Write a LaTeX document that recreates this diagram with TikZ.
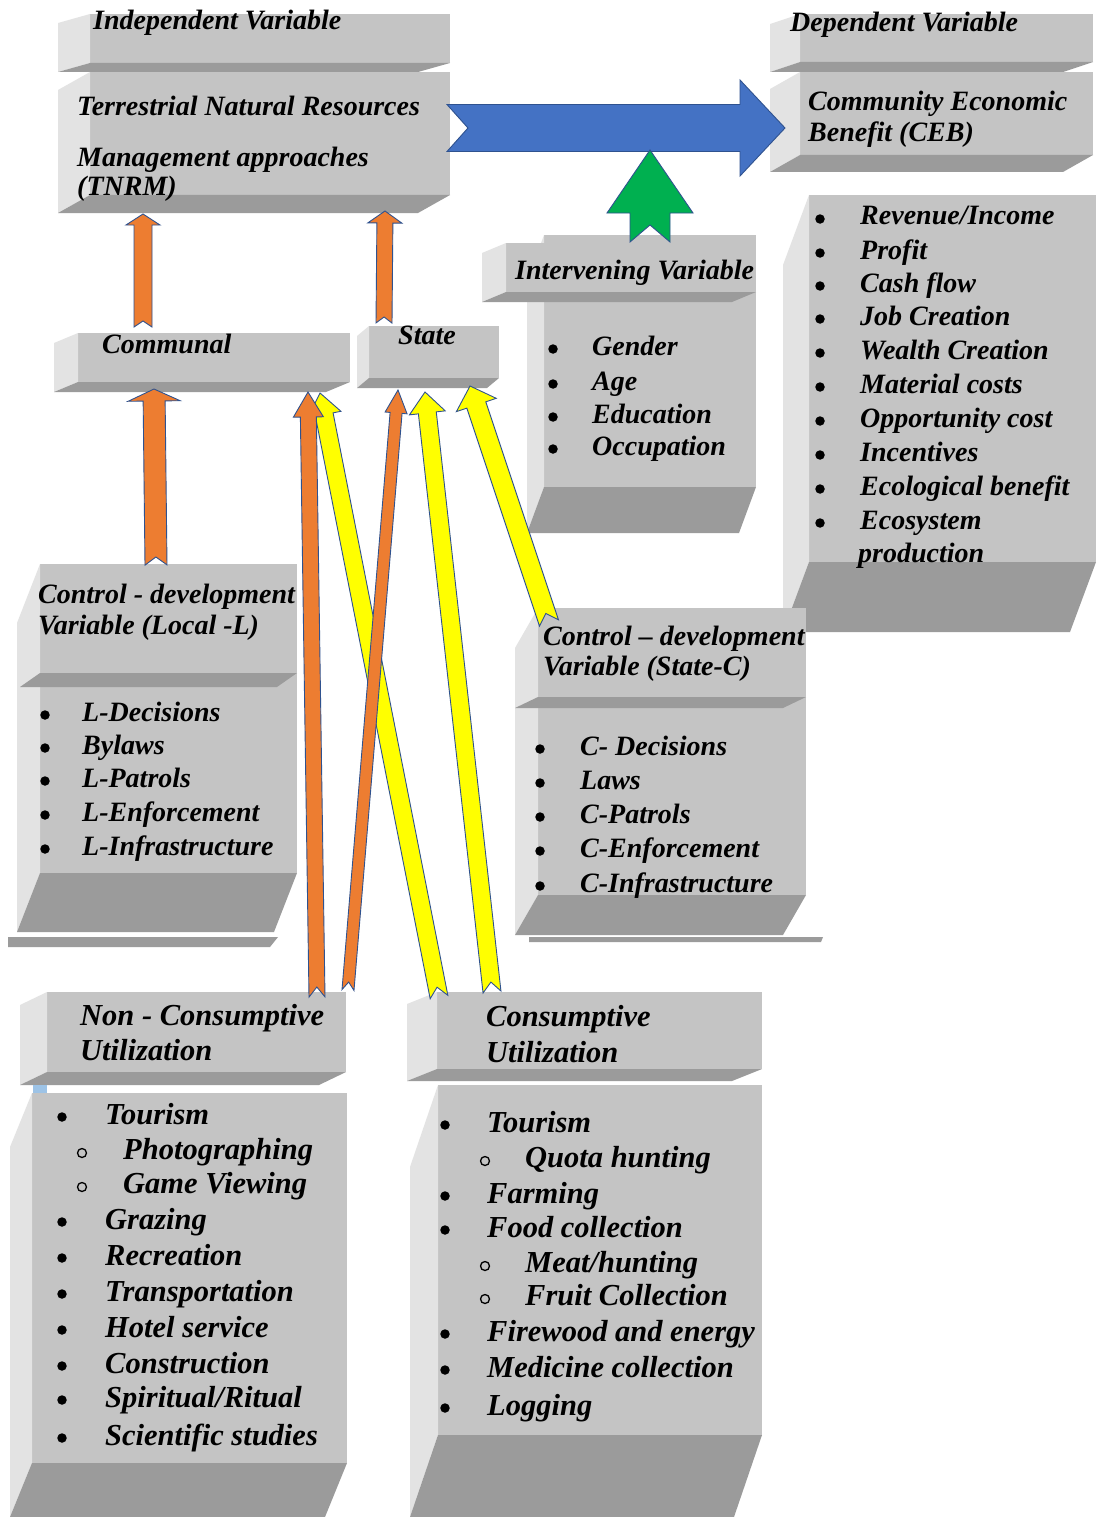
\documentclass[tikz,border=0pt]{standalone}
\usepackage{fontspec}
\setmainfont{Liberation Serif}
\usetikzlibrary{calc}
\definecolor{facec}{HTML}{C4C4C4}
\definecolor{leftc}{HTML}{E3E3E3}
\definecolor{botc}{HTML}{9B9B9B}
\definecolor{orng}{HTML}{ED7D31}
\definecolor{ylw}{HTML}{FFFF00}
\definecolor{blu}{HTML}{4472C4}
\definecolor{grn}{HTML}{00B050}
\definecolor{edgec}{HTML}{2F528F}
\definecolor{ltblue}{HTML}{9DC3E6}
% cube: x1 y1 x2 y2 dx dy  (image coordinates, y downward)
\newcommand{\cubebox}[6]{%
 \fill[facec] (#1,#2) rectangle (#3,#4);
 \fill[leftc] (#1,#2) -- (#1,#4) -- ({#1-#5},{#4+#6}) -- ({#1-#5},{#2+#6}) -- cycle;
 \fill[botc] (#1,#4) -- (#3,#4) -- ({#3-#5},{#4+#6}) -- ({#1-#5},{#4+#6}) -- cycle;}
% block arrow: style, tail, tip, shaft half width, head half width, head length, notch
\newcommand{\blockarrow}[7]{%
 \coordinate (ba-#2) at ($(#3)!#6pt!(#2)$);
 \draw[#1] ($(#2)!#4pt!90:(#3)$) -- ($(ba-#2)!#4pt!90:(#3)$) -- ($(ba-#2)!#5pt!90:(#3)$)
   -- (#3) -- ($(ba-#2)!#5pt!-90:(#3)$) -- ($(ba-#2)!#4pt!-90:(#3)$)
   -- ($(#2)!#4pt!-90:(#3)$) -- ($(#2)!#7pt!(#3)$) -- cycle;}
\begin{document}
\begin{tikzpicture}[x=1pt,y=-1pt,
  txt/.style={anchor=base west, inner sep=0pt, font=\bfseries\itshape\fontsize{28}{32}\selectfont},
  txtb/.style={txt, font=\bfseries\itshape\fontsize{30.5}{34}\selectfont},
  bulc/.style={circle, fill=black, inner sep=0pt, minimum size=9.5pt},
  subc/.style={circle, draw=black, line width=1.3pt, inner sep=0pt, minimum size=9pt},
  arrbase/.style={draw=edgec, line width=0.9pt, line join=miter},
  orangearr/.style={arrbase, fill=orng},
  yellowarr/.style={arrbase, fill=ylw},
  bluearr/.style={arrbase, fill=blu},
  greenarr/.style={arrbase, fill=grn}]
\useasboundingbox (0,0) rectangle (1096,1517);
\clip (0,0) rectangle (1096,1517);
\fill[white] (0,0) rectangle (1096,1517);

% ---------- boxes ----------
\cubebox{90}{14}{450}{63}{32}{9}
\cubebox{90}{72}{450}{195}{32}{18}
\cubebox{800}{14}{1093}{62}{30}{10}
\cubebox{800}{72}{1093}{155}{30}{17}
\cubebox{809}{195}{1096}{562}{26}{70}
\cubebox{544}{235}{756}{487}{17}{46}
\cubebox{506}{243}{756}{292}{24}{10}
\cubebox{78}{333}{350}{382}{24}{10}
\cubebox{369}{326}{499}{378}{12}{10}
\cubebox{40}{564}{297}{873}{23}{59}
\fill[botc] (40,673) -- (297,673) -- (277,687) -- (20,687) -- cycle;
\cubebox{538}{608}{806}{895}{23}{40}
\fill[botc] (538,697) -- (806,697) -- (783,708) -- (515,708) -- cycle;
\fill[botc] (8,937) -- (278,937) -- (270,947) -- (8,947) -- cycle;
\fill[botc] (529,937) -- (823,937) -- (821,942) -- (529,942) -- cycle;
\cubebox{47}{992}{346}{1072}{27}{13}
\fill[ltblue] (33,1085) rectangle (47,1094);
\cubebox{32}{1093}{347}{1463}{22}{54}
\cubebox{437}{992}{762}{1069}{30}{12}
\cubebox{438}{1085}{762}{1435}{28}{82}

% ---------- texts (y = visual centre + 9 = baseline) ----------
\node[txt] (iv) at (93,30) {Independent Variable};
\node[txt] (tn1) at (77,116) {Terrestrial Natural Resources};
\node[txt] (tn2) at (77,167) {Management approaches};
\node[txt] (tn3) at (77,196) {(TNRM)};
\node[txt] (dv) at (790,32) {Dependent Variable};
\node[txt] (ceb1) at (808,111) {Community Economic};
\node[txt] (ceb2) at (808,142) {Benefit (CEB)};
\node[txt] (com) at (102,353) {Communal};
\node[txt] (sta) at (398,344) {State};
\node[txt] (intv) at (515,279) {Intervening Variable};
\foreach \t/\y [count=\i] in {Gender/346, Age/381, Education/414, Occupation/446}{
  \node[bulc] (ib\i) at (553,{\y+3}) {};
  \node[txt] (it\i) at (592,{\y+9}) {\t};}
\foreach \t/\y [count=\i] in {Revenue\slash Income/216, Profit/250, Cash flow/283, Job Creation/316,
   Wealth Creation/350, Material costs/384, Opportunity cost/418, Incentives/452,
   Ecological benefit/486, Ecosystem/520}{
  \node[bulc] (db\i) at (820,{\y+3}) {};
  \node[txt] (dt\i) at (860,{\y+9}) {\t};}
\node[txt] (dt11) at (858,562) {production};
\node[txt] (cl1) at (38,603) {Control - development};
\node[txt] (cl2) at (38,634) {Variable (Local -L)};
\foreach \t/\y [count=\i] in {L-Decisions/712, Bylaws/745, L-Patrols/778, L-Enforcement/812, L-Infrastructure/846}{
  \node[bulc] (lb\i) at (45,{\y+3}) {};
  \node[txt] (lt\i) at (82,{\y+9}) {\t};}
\node[txt] (cc1) at (543,645) {Control – development};
\node[txt] (cc2) at (543,675) {Variable (State-C)};
\foreach \t/\y [count=\i] in {C- Decisions/746, Laws/780, C-Patrols/814, C-Enforcement/848, C-Infrastructure/883}{
  \node[bulc] (cb\i) at (540,{\y+3}) {};
  \node[txt] (ct\i) at (580,{\y+9}) {\t};}
\node[txtb] (nc1) at (80,1025) {Non - Consumptive};
\node[txtb] (nc2) at (80,1060) {Utilization};
\node[txtb] (cu1) at (486,1026) {Consumptive};
\node[txtb] (cu2) at (486,1062) {Utilization};
% non-consumptive list
\foreach \t/\y [count=\i] in {Tourism/1114, Grazing/1219, Recreation/1255, Transportation/1291,
   Hotel service/1327, Construction/1363, Spiritual\slash Ritual/1397, Scientific studies/1435}{
  \node[bulc] (nb\i) at (62,{\y+3}) {};
  \node[txtb] (nt\i) at (105,{\y+10}) {\t};}
\foreach \t/\y [count=\i] in {Photographing/1149, Game Viewing/1183}{
  \node[subc] (ns\i) at (82,{\y+4}) {};
  \node[txtb] (nst\i) at (123,{\y+10}) {\t};}
% consumptive list
\foreach \t/\y [count=\i] in {Tourism/1122, Farming/1193, Food collection/1227,
   Firewood and energy/1331, Medicine collection/1367, Logging/1405}{
  \node[bulc] (ub\i) at (445,{\y+3}) {};
  \node[txtb] (ut\i) at (487,{\y+10}) {\t};}
\foreach \t/\y [count=\i] in {Quota hunting/1157, Meat\slash hunting/1262, Fruit Collection/1295}{
  \node[subc] (us\i) at (485,{\y+4}) {};
  \node[txtb] (ust\i) at (525,{\y+10}) {\t};}

% ---------- arrow end points ----------
\coordinate (blue-t) at (447,128);  \coordinate (blue-h) at (785,128);
\coordinate (grn-t) at (650,242);   \coordinate (grn-h) at (650,150);
\coordinate (o1-t) at (143,327);    \coordinate (o1-h) at (143,214);
\coordinate (o2-t) at (384,323);    \coordinate (o2-h) at (385,211);
\coordinate (o3-t) at (156,565);    \coordinate (o3-h) at (154,389);
\coordinate (oa-t) at (317,997);    \coordinate (oa-h) at (308,392);
\coordinate (ob-t) at (348,990);    \coordinate (ob-h) at (398,390);
\coordinate (ya-t) at (439,997);    \coordinate (ya-h) at (320,393);
\coordinate (yb-t) at (492,992);    \coordinate (yb-h) at (425,392);
\coordinate (yc-t) at (549,623);    \coordinate (yc-h) at (470,386);

% ---------- arrows ----------
\blockarrow{bluearr}{blue-t}{blue-h}{23.5}{48}{45}{21}
\blockarrow{greenarr}{grn-t}{grn-h}{20}{43}{63}{17}
\blockarrow{orangearr}{o1-t}{o1-h}{9}{17}{11}{6}
\blockarrow{orangearr}{o2-t}{o2-h}{8}{17}{12}{6}
\blockarrow{orangearr}{o3-t}{o3-h}{11}{26}{12}{8}
\blockarrow{yellowarr}{ya-t}{ya-h}{9}{17}{22}{10}
\blockarrow{yellowarr}{yb-t}{yb-h}{9}{18}{21}{10}
\blockarrow{yellowarr}{yc-t}{yc-h}{10}{21}{20}{10}
\blockarrow{orangearr}{oa-t}{oa-h}{8}{15}{25}{10}
\blockarrow{orangearr}{ob-t}{ob-h}{6}{11}{23}{8}
\end{tikzpicture}
\end{document}
